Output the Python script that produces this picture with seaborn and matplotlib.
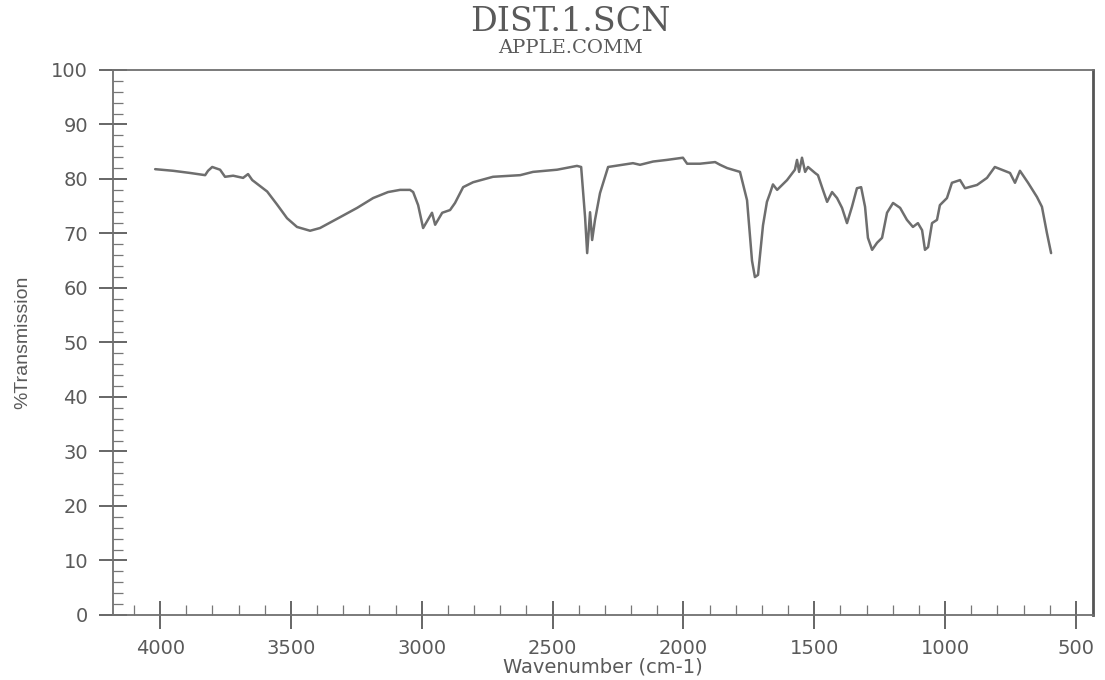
import numpy as np
import pandas as pd
import matplotlib
matplotlib.use("Agg")
import matplotlib.pyplot as plt
import seaborn as sns
from matplotlib.ticker import MultipleLocator

# IR spectrum: wavenumber (cm-1) and % transmission
wavenumber = [4019, 3950, 3885, 3828, 3817, 3801, 3771, 3752, 3721, 3683,
              3664, 3648, 3591, 3553, 3515, 3477, 3427, 3389, 3312, 3247,
              3186, 3129, 3083, 3045, 3033, 3014, 2995, 2961, 2949, 2922,
              2892, 2873, 2842, 2804, 2728, 2624, 2575, 2483, 2407, 2391,
              2376, 2368, 2357, 2349, 2338, 2319, 2288, 2193, 2166, 2116,
              2063, 2002, 1986, 1937, 1879, 1860, 1833, 1784, 1757, 1738,
              1727, 1715, 1696, 1681, 1669, 1658, 1642, 1604, 1574, 1566,
              1558, 1547, 1535, 1524, 1497, 1486, 1467, 1451, 1432, 1413,
              1394, 1375, 1356, 1337, 1321, 1306, 1295, 1279, 1260, 1241,
              1222, 1199, 1172, 1146, 1123, 1104, 1088, 1077, 1065, 1050,
              1031, 1020, 993, 974, 943, 924, 878, 840, 810, 752,
              733, 714, 683, 649, 630, 611, 595]
transmission = [81.8, 81.5, 81.1, 80.7, 81.5, 82.2, 81.7, 80.4, 80.6, 80.2,
                80.9, 79.8, 77.7, 75.3, 72.8, 71.2, 70.5, 71.0, 73.0, 74.7,
                76.5, 77.6, 78.0, 78.0, 77.6, 75.2, 71.0, 73.8, 71.6, 73.8,
                74.3, 75.6, 78.5, 79.4, 80.4, 80.7, 81.3, 81.7, 82.4, 82.2,
                73.0, 66.4, 73.9, 68.8, 72.5, 77.4, 82.2, 82.9, 82.6, 83.2,
                83.5, 83.9, 82.8, 82.8, 83.1, 82.6, 82.0, 81.3, 76.1, 65.0,
                62.0, 62.4, 71.5, 75.8, 77.4, 79.0, 78.0, 79.8, 81.7, 83.5,
                81.3, 83.9, 81.3, 82.2, 81.1, 80.7, 78.0, 75.8, 77.6, 76.5,
                74.7, 71.9, 74.9, 78.3, 78.5, 74.9, 69.2, 67.0, 68.3, 69.2,
                73.8, 75.6, 74.7, 72.5, 71.2, 71.9, 70.6, 67.0, 67.5, 71.9,
                72.5, 75.2, 76.5, 79.3, 79.8, 78.3, 78.9, 80.2, 82.2, 81.1,
                79.3, 81.5, 79.3, 76.7, 74.9, 70.1, 66.4]

x_ticks = [4000, 3500, 3000, 2500, 2000, 1500, 1000, 500]
y_ticks = [0, 10, 20, 30, 40, 50, 60, 70, 80, 90, 100]

df = pd.DataFrame({"Wavenumber": wavenumber, "T": transmission})

sns.set_theme(style="ticks")
plt.rcParams["font.family"] = ["DejaVu Sans"]

ink = "#5a5a5a"
fig = plt.figure(figsize=(11.05, 6.8), dpi=100)
ax = fig.add_axes([0.1023, 0.0956, 0.9891 - 0.1023, 0.8971 - 0.0956])

sns.lineplot(data=df, x="Wavenumber", y="T", ax=ax, color="#6e6e6e",
             linewidth=1.8, estimator=None, sort=False)

ax.set_xlim(4180, 435)
ax.set_ylim(0, 100)
ax.set_xticks(x_ticks)
ax.set_yticks(y_ticks)
ax.xaxis.set_minor_locator(MultipleLocator(100))
ax.yaxis.set_minor_locator(MultipleLocator(2))

ax.tick_params(axis="both", which="major", direction="inout", length=20,
               width=1.3, color=ink, labelcolor=ink, labelsize=14, pad=8)
ax.tick_params(axis="both", which="minor", direction="in", length=7,
               width=0.9, color="#777777")
ax.tick_params(axis="x", which="major", pad=7)

for side in ["left", "bottom", "top"]:
    ax.spines[side].set_color("#707070")
    ax.spines[side].set_linewidth(1.3)
ax.spines["right"].set_color("#555555")
ax.spines["right"].set_linewidth(2.0)

ax.set_xlabel("Wavenumber (cm-1)", fontsize=14, color=ink, labelpad=0)
ax.set_ylabel("%Transmission", fontsize=14, color=ink,
              family=["Liberation Sans"], labelpad=14)

fig.text(0.516, 0.967, "DIST.1.SCN", ha="center", va="center",
         family=["DejaVu Serif"], fontsize=24, color=ink)
fig.text(0.516, 0.929, "APPLE.COMM", ha="center", va="center",
         family=["DejaVu Serif"], fontsize=14, color=ink)

fig.savefig("out.png", dpi=100, facecolor="white")
